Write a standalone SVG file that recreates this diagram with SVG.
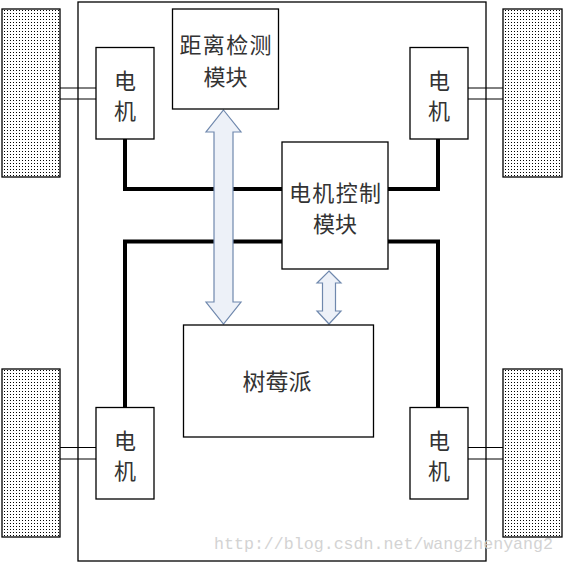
<svg xmlns="http://www.w3.org/2000/svg" width="565" height="565" viewBox="0 0 565 565">
<style>
.box{fill:#fff;stroke:#000;stroke-width:1.3}
.wheel{fill:url(#dots);stroke:#000;stroke-width:1.3}
.axle{stroke:#000;stroke-width:1;fill:none}
.wire{stroke:#000;stroke-width:4;fill:none}
.arrow{fill:#edf1f8;stroke:#6f88ad;stroke-width:1.2}
.t{font-family:"Noto Sans CJK SC","Noto Sans",sans-serif;font-size:22px;fill:#333;text-anchor:middle}
.wm{font-family:"Liberation Mono",monospace;font-size:17px;fill:#cfcfcf;opacity:0.9}
</style>
<defs>
<pattern id="dots" width="3" height="3" patternUnits="userSpaceOnUse">
<rect width="3" height="3" fill="#fff"/>
<rect x="1" y="1" width="1" height="1" fill="#000"/>
</pattern>
</defs>
<rect width="565" height="565" fill="#fff"/>
<rect id="frame" x="78" y="2" width="408" height="559" fill="none" stroke="#000" stroke-width="1.3"/>
<g id="wheels">
<rect id="wheel-tl" class="wheel" x="2" y="9" width="58" height="168"/>
<rect id="wheel-tr" class="wheel" x="503" y="9" width="59" height="168"/>
<rect id="wheel-bl" class="wheel" x="2" y="369" width="58" height="168"/>
<rect id="wheel-br" class="wheel" x="503" y="369" width="59" height="168"/>
</g>
<g id="connectors">
<path class="axle" d="M60,88H96M60,99H96M468,88H503M468,99H503M60,447.5H96M60,459H96M468,447.5H503M468,459H503"/>
<path class="wire" d="M125,139V189H282"/>
<path class="wire" d="M388,189H438V139"/>
<path class="wire" d="M282,241.5H125V407.5"/>
<path class="wire" d="M388,241.5H438V407.5"/>
<path class="arrow" d="M223.5,110L241,132H233V302H241L223.5,324L206,302H214V132H206Z"/>
<path class="arrow" d="M329,271L341,283H335.5V311H341L329,324L317,311H322.5V283H317Z"/>
</g>
<g id="motor-tl"><rect class="box" x="96" y="47.5" width="58" height="91.5"/><text class="t" x="125" y="89">电</text><text class="t" x="125" y="119">机</text></g>
<g id="motor-tr"><rect class="box" x="410" y="47.5" width="58" height="91.5"/><text class="t" x="439" y="89">电</text><text class="t" x="439" y="119">机</text></g>
<g id="motor-bl"><rect class="box" x="96" y="407.5" width="58" height="91.5"/><text class="t" x="125" y="449">电</text><text class="t" x="125" y="479">机</text></g>
<g id="motor-br"><rect class="box" x="410" y="407.5" width="58" height="91.5"/><text class="t" x="439" y="449">电</text><text class="t" x="439" y="479">机</text></g>
<g id="distance"><rect class="box" x="172.5" y="9" width="106" height="100"/><text class="t" x="225.5" y="53" textLength="92">距离检测</text><text class="t" x="225.5" y="85">模块</text></g>
<g id="motor-ctrl"><rect class="box" x="282" y="142" width="106" height="127"/><text class="t" x="335" y="201" textLength="92">电机控制</text><text class="t" x="335" y="232">模块</text></g>
<g id="raspberry"><rect class="box" x="183.5" y="325" width="190" height="112"/><text class="t" x="277" y="390" style="font-size:23px">树莓派</text></g>
<text class="wm" x="214" y="549" textLength="339" lengthAdjust="spacingAndGlyphs">http://blog.csdn.net/wangzhenyang2</text>
</svg>
